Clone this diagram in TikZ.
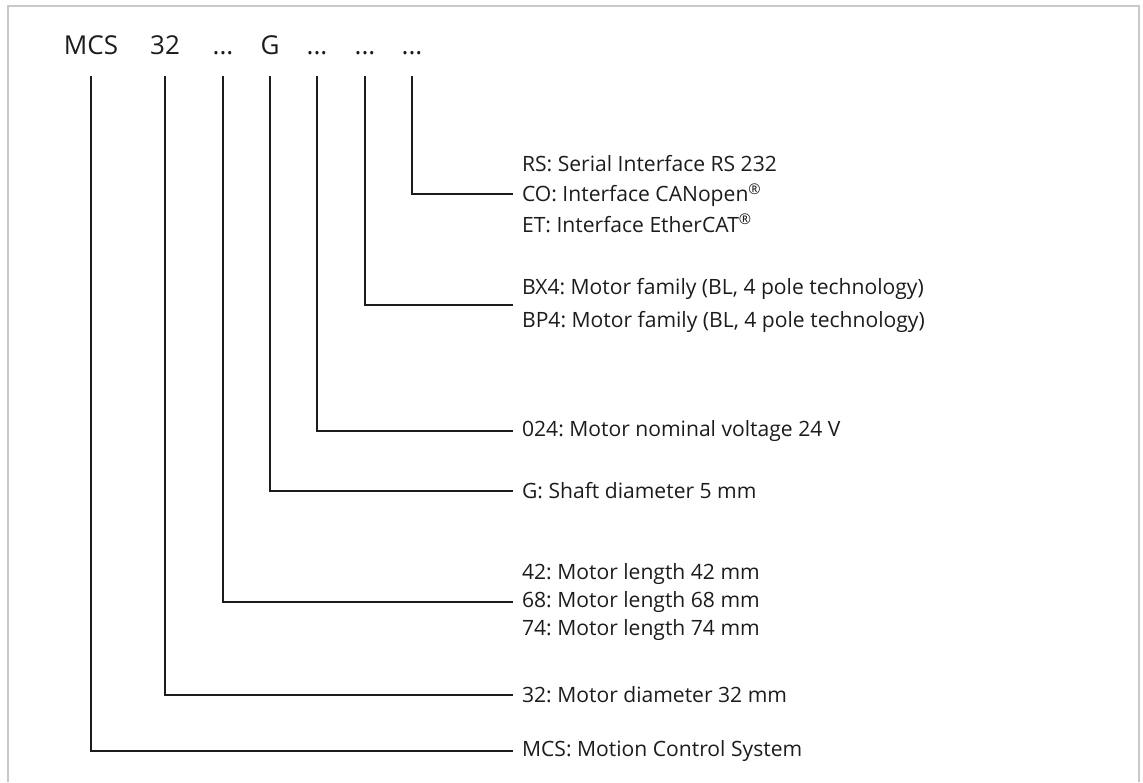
\documentclass[tikz,border=0pt]{standalone}
\usepackage{fontspec}
\setmainfont{Open Sans}
\usepackage{xcolor}
\usepackage{tikz}
\usetikzlibrary{positioning}
\definecolor{mcsInk}{HTML}{1E1B1C}
\definecolor{mcsFrame}{HTML}{C8C8C8}
\frenchspacing

\begin{document}
\begin{tikzpicture}[
  x=0.025cm, y=-0.025cm,
  code/.style={anchor=base, inner sep=0pt, text=mcsInk, font=\fontsize{18.5}{21}\selectfont},
  desc/.style={anchor=west, align=left, inner xsep=0.22cm, inner ysep=0pt, text=mcsInk,
    font=\fontsize{15}{21.5}\selectfont},
  lead/.style={draw=mcsInk, line width=1.9pt, shorten <=0.52cm}
]
  \useasboundingbox (0,0) rectangle (1143,782);
  \draw[mcsFrame, line width=1.4pt] (8,782) -- (8,6) -- (1139,6) -- (1139,782);
  % order code
  \node[code] (cSys) at (91,55) {MCS};
  \node[code] (cDia) at (165,55) {32};
  \node[code] (cLen) at (223,55) {...};
  \node[code] (cShaft) at (270,55) {G};
  \node[code] (cVolt) at (317,55) {...};
  \node[code] (cFam) at (365,55) {...};
  \node[code] (cBus) at (412,55) {...};
  % explanations
  \node[desc] (dBus) at (513,194) {RS: Serial Interface RS 232\\CO: Interface CANopen\textsuperscript{®}\\ET: Interface EtherCAT\textsuperscript{®}};
  \node[desc,font=\fontsize{15}{23.5}\selectfont] (dFam) at (513,305) {BX4: Motor family (BL, 4 pole technology)\\BP4: Motor family (BL, 4 pole technology)};
  \node[desc] (dVolt) at (513,431) {024: Motor nominal voltage 24 V};
  \node[desc] (dShaft) at (513,491) {G: Shaft diameter 5 mm};
  \node[desc,font=\fontsize{15}{20}\selectfont] (dLen) at (513,602) {42: Motor length 42 mm\\68: Motor length 68 mm\\74: Motor length 74 mm};
  \node[desc] (dDia) at (513,695) {32: Motor diameter 32 mm};
  \node[desc] (dSys) at (513,751) {MCS: Motion Control System};
  \draw[lead] (cBus.south) |- (dBus.west);
  \draw[lead] (cFam.south) |- (dFam.west);
  \draw[lead] (cVolt.south) |- (dVolt.west);
  \draw[lead] (cShaft.south) |- (dShaft.west);
  \draw[lead] (cLen.south) |- (dLen.west);
  \draw[lead] (cDia.south) |- (dDia.west);
  \draw[lead] (cSys.south) |- (dSys.west);
\end{tikzpicture}
\end{document}
